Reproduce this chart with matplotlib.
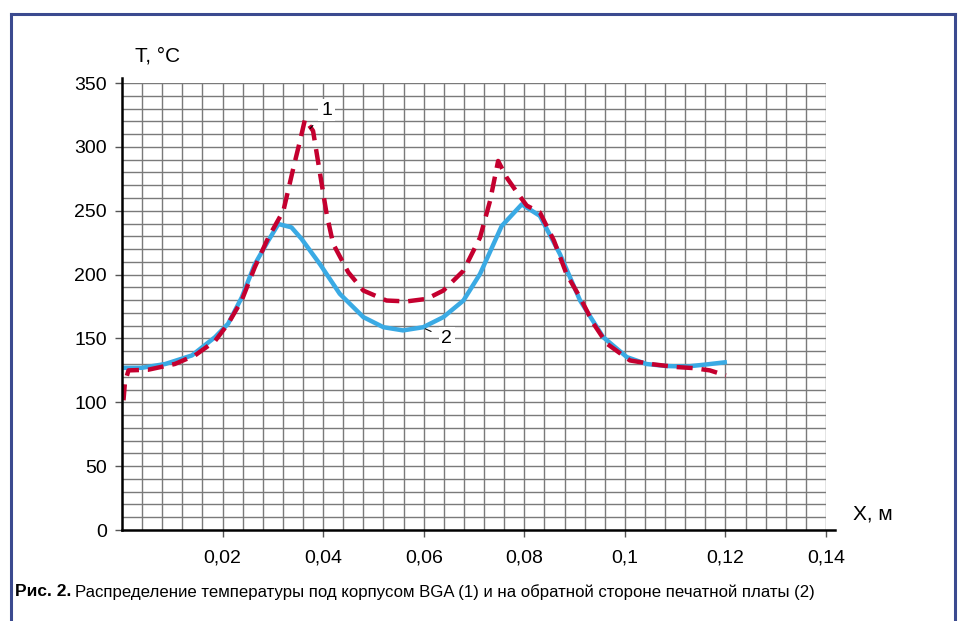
import matplotlib
matplotlib.use('Agg')
import matplotlib.pyplot as plt
from matplotlib.lines import Line2D

# curve 2: back side of the PCB (solid blue)
x_back = [0.0, 0.0039, 0.0086, 0.0139, 0.0185, 0.0211, 0.0238, 0.0264, 0.0291, 0.0311,
          0.0337, 0.0357, 0.0394, 0.0433, 0.0480, 0.0520, 0.0559, 0.0599, 0.0639, 0.0679,
          0.0712, 0.0755, 0.0795, 0.0831, 0.0871, 0.0911, 0.0957, 0.1004, 0.1043, 0.1083,
          0.1123, 0.1163, 0.1203]
t_back = [127, 127, 130, 136.7, 151, 161.5, 182, 208, 226.6, 239.6,
          237, 228, 208, 185, 166.7, 158.8, 156.3, 158.8, 166.7, 179.7,
          200.5, 238, 255, 246, 216, 179.7, 151, 135.4, 130, 128.4,
          128, 129.7, 131.5]

# curve 1: under the BGA package (dashed red)
x_bga = [0.0003, 0.0006, 0.0013, 0.0052, 0.0105, 0.0145, 0.0185, 0.0211, 0.0238, 0.0264,
         0.0291, 0.0321, 0.0341, 0.0354, 0.0364, 0.0380, 0.0394, 0.0407, 0.0420, 0.0450,
         0.0480, 0.0526, 0.0566, 0.0606, 0.0639, 0.0679, 0.0712, 0.0732, 0.0748, 0.0765,
         0.0788, 0.0805, 0.0831, 0.0859, 0.0884, 0.0911, 0.0937, 0.0964, 0.1010, 0.1057,
         0.1103, 0.1136, 0.1169, 0.1201]
t_bga = [101.6, 116, 125, 125.5, 130, 136.7, 148, 161.5, 179.7, 205.7,
         229, 250, 283.8, 304.7, 321.6, 312.5, 278.6, 247.4, 224, 201.8,
         187.5, 179.7, 179, 181, 187.5, 203, 229, 257.8, 289, 276,
         263, 254, 248.7, 226.6, 200.5, 182, 162, 146, 132.8, 129.7,
         127.6, 126.8, 125, 121]

x_ticks = [0.02, 0.04, 0.06, 0.08, 0.1, 0.12, 0.14]
x_tick_labels = ['0,02', '0,04', '0,06', '0,08', '0,1', '0,12', '0,14']
y_ticks = [0, 50, 100, 150, 200, 250, 300, 350]

plt.rcParams['font.family'] = ['Liberation Sans', 'DejaVu Sans']

fig = plt.figure(figsize=(9.59, 6.21), dpi=100)
ax = fig.add_axes([0.1272, 0.1465, 0.7341, 0.7198])

ax.set_xlim(0, 0.14)
ax.set_ylim(0, 350)

# grid: every 0.004 m and every 10 degrees
for i in range(1, 36):
    ax.axvline(i * 0.004, color='#7a7a7a', linewidth=1.0, zorder=1)
for i in range(1, 36):
    ax.axhline(i * 10, color='#7a7a7a', linewidth=1.0, zorder=1)

ax.plot(x_back, t_back, color='#3aaae4', linewidth=3.2, solid_joinstyle='round',
        solid_capstyle='butt', zorder=3)
ax.plot(x_bga, t_bga, color='#c4002f', linewidth=3.2, linestyle=(0, (3.6, 2.0)),
        dash_capstyle='butt', zorder=4)

ax.set_xticks(x_ticks)
ax.set_xticklabels(x_tick_labels)
ax.set_yticks(y_ticks)
ax.tick_params(length=5, width=1.0, color='#555555', labelsize=14, pad=6)
ax.tick_params(axis='x', pad=9)

# axes lines run a little past the plot area
for s in ax.spines.values():
    s.set_visible(False)
ax.plot([0, 0], [0, 1.011], transform=ax.transAxes, color='black', linewidth=1.8,
        clip_on=False, zorder=5)
ax.plot([0, 1.013], [0, 0], transform=ax.transAxes, color='black', linewidth=1.8,
        clip_on=False, zorder=5)

ax.text(0.019, 1.06, 'T, °C', transform=ax.transAxes, fontsize=15, ha='left', va='center')
ax.text(1.038, 0.036, 'X, м', transform=ax.transAxes, fontsize=15, ha='left', va='center')

# curve labels
box = dict(facecolor='white', edgecolor='none', pad=2)
ax.annotate('1', xy=(0.0374, 314.3), xytext=(0.0407, 328.7), fontsize=14, ha='center',
            va='center', bbox=box, zorder=6,
            arrowprops=dict(arrowstyle='-', color='black', linewidth=0.8,
                            shrinkA=6, shrinkB=0))
ax.annotate('2', xy=(0.0603, 157.6), xytext=(0.0646, 149.8), fontsize=14, ha='center',
            va='center', bbox=box, zorder=6,
            arrowprops=dict(arrowstyle='-', color='black', linewidth=0.8,
                            shrinkA=6, shrinkB=0))

# blue frame (open at the bottom)
frame = '#3b4a8f'
fig.add_artist(Line2D([0.0115, 0.0115], [0.0, 0.9775], color=frame, linewidth=2.2))
fig.add_artist(Line2D([0.9963, 0.9963], [0.0, 0.9775], color=frame, linewidth=2.2))
fig.add_artist(Line2D([0.0115, 0.9963], [0.9775, 0.9775], color=frame, linewidth=2.2))

# caption
cap_y = 1 - 592 / 621
t1 = fig.text(15 / 959, cap_y, 'Рис. 2.', fontsize=12.5, fontweight='bold', ha='left',
              va='center')
fig.canvas.draw()
bb = t1.get_window_extent()
fig.text((bb.x1 + 4) / 959, cap_y,
         'Распределение температуры под корпусом BGA (1) и на обратной стороне печатной платы (2)',
         fontsize=12.1, ha='left', va='center')

fig.savefig('out.png', dpi=100)
